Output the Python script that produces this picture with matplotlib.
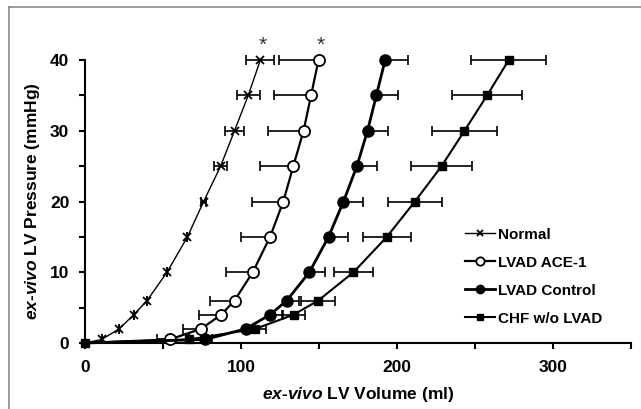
import matplotlib
matplotlib.use("Agg")
import matplotlib.pyplot as plt
from matplotlib.lines import Line2D
import numpy as np

plt.rcParams['font.family'] = ['Liberation Sans', 'DejaVu Sans']
plt.rcParams['mathtext.fontset'] = 'custom'
plt.rcParams['mathtext.it'] = 'Liberation Sans:italic:bold'
plt.rcParams['mathtext.rm'] = 'Liberation Sans:bold'

# ---- data ----
pressure = [0.5, 2, 4, 6, 10, 15, 20, 25, 30, 35, 40]

normal_vol = [10.5, 21.7, 31.1, 39.6, 52.4, 65.5, 75.9, 86.8, 95.7, 104.5, 112.3]
normal_err = [0, 0, 0, 0, 0, 0, 1.5, 4, 5.9, 7.3, 9]

ace_vol = [54.2, 74.2, 87.2, 95.7, 107.4, 118.5, 127, 133.4, 140, 144.8, 149.6]
ace_err_left = [8.5, 11.5, 14.3, 16, 17, 18.9, 20, 21.1, 23, 23.5, 25.1]

ctrl_vol = [77, 102.8, 118.5, 129.2, 143.7, 156, 165.6, 174.2, 181, 186.7, 192.3]
ctrl_err_right = [4, 5, 8.1, 8, 10, 12.2, 12.6, 13.1, 13.4, 14.1, 14.9]

chf_vol = [66.5, 109.1, 133.6, 149.4, 172, 193.4, 211.4, 228.5, 243.2, 257.7, 271.6]
chf_err = [0, 6.9, 7.5, 11, 12.6, 15.5, 17.4, 19.4, 21, 22.4, 24]

origin_vol, origin_p = 0, 0
labels = ["Normal", "LVAD ACE-1", "LVAD Control", "CHF w/o LVAD"]
star_series = [(normal_vol, pressure), (ace_vol, pressure)]

# ---- figure ----
W, H = 641, 409
fig = plt.figure(figsize=(W / 100, H / 100), dpi=100)
x0, x1 = 85.3, 631
y0, y1 = 343, 60
ax = fig.add_axes([x0 / W, (H - y0) / H, (x1 - x0) / W, (y0 - y1) / H])

# outer gray frame
fig.add_artist(Line2D([9 / W, 9 / W], [0, 1 - 7 / H], transform=fig.transFigure, color='#8a8a8a', lw=1.2))
fig.add_artist(Line2D([9 / W, 1], [1 - 7 / H, 1 - 7 / H], transform=fig.transFigure, color='#8a8a8a', lw=1.2))

def with_origin(v):
    return [origin_vol] + list(v), [origin_p] + list(pressure)

ekw = dict(fmt='none', ecolor='black', elinewidth=1.2, capsize=3.5, capthick=1.2, clip_on=False, zorder=2)

# error bars
ax.errorbar(normal_vol, pressure, xerr=normal_err, **ekw)
ax.errorbar(ace_vol, pressure, xerr=[ace_err_left, [0] * len(ace_vol)], **ekw)
ax.errorbar(ctrl_vol, pressure, xerr=[[0] * len(ctrl_vol), ctrl_err_right], **ekw)
ax.errorbar(chf_vol, pressure, xerr=chf_err, **ekw)

# lines
xv, yv = with_origin(normal_vol)
ax.plot(xv, yv, color='black', lw=1.0, marker='x', ms=6, mew=1.3, markevery=slice(1, None),
        clip_on=False, zorder=3, label=labels[0])
xv, yv = with_origin(ace_vol)
ax.plot(xv, yv, color='black', lw=1.6, marker='o', ms=8, mfc='white', mec='black', mew=1.3,
        markevery=slice(1, None), clip_on=False, zorder=4, label=labels[1])
xv, yv = with_origin(ctrl_vol)
ax.plot(xv, yv, color='black', lw=2.0, marker='o', ms=8, mfc='black', mec='black',
        markevery=slice(1, None), clip_on=False, zorder=4, label=labels[2])
xv, yv = with_origin(chf_vol)
ax.plot(xv, yv, color='black', lw=1.5, marker='s', ms=6, mfc='black', mec='black',
        clip_on=False, zorder=5, label=labels[3])

# asterisks
for sv, sp in star_series:
    ax.annotate('*', (sv[-1], sp[-1]), xytext=(1.5, 4), textcoords='offset points',
                ha='center', va='bottom', fontsize=15, color='#333333', annotation_clip=False)

ax.set_xlim(0, 350)
ax.set_ylim(0, 40)
for s in ['top', 'right']:
    ax.spines[s].set_visible(False)
for s in ['left', 'bottom']:
    ax.spines[s].set_linewidth(1.5)

ax.set_xticks([0, 100, 200, 300])
ax.set_xticks([50, 150, 250, 350], minor=True)
ax.set_yticks([0, 10, 20, 30, 40])
ax.set_yticks([5, 15, 25, 35], minor=True)
ax.tick_params(which='both', direction='out', length=4.5, width=1.5)
ax.tick_params(axis='y', which='both', pad=7)
ax.tick_params(axis='x', which='both', pad=8)
for lab in ax.get_xticklabels() + ax.get_yticklabels():
    lab.set_fontweight('bold')
    lab.set_fontsize(12.5)

ax.set_xlabel(r"$\it{ex}$-$\it{vivo}$ LV Volume (ml)", fontsize=12.5, fontweight='bold', labelpad=7)
ax.set_ylabel(r"$\it{ex}$-$\it{vivo}$ LV Pressure (mmHg)", fontsize=12.5, fontweight='bold', labelpad=6)

leg = ax.legend(loc='upper left', bbox_to_anchor=(457 / W, 1 - 220 / H), bbox_transform=fig.transFigure,
                frameon=False, prop={'weight': 'bold', 'size': 11}, handlelength=2.0,
                handletextpad=0.2, labelspacing=0.92, borderpad=0, markerscale=0.75)

fig.savefig('out.png', dpi=100)
